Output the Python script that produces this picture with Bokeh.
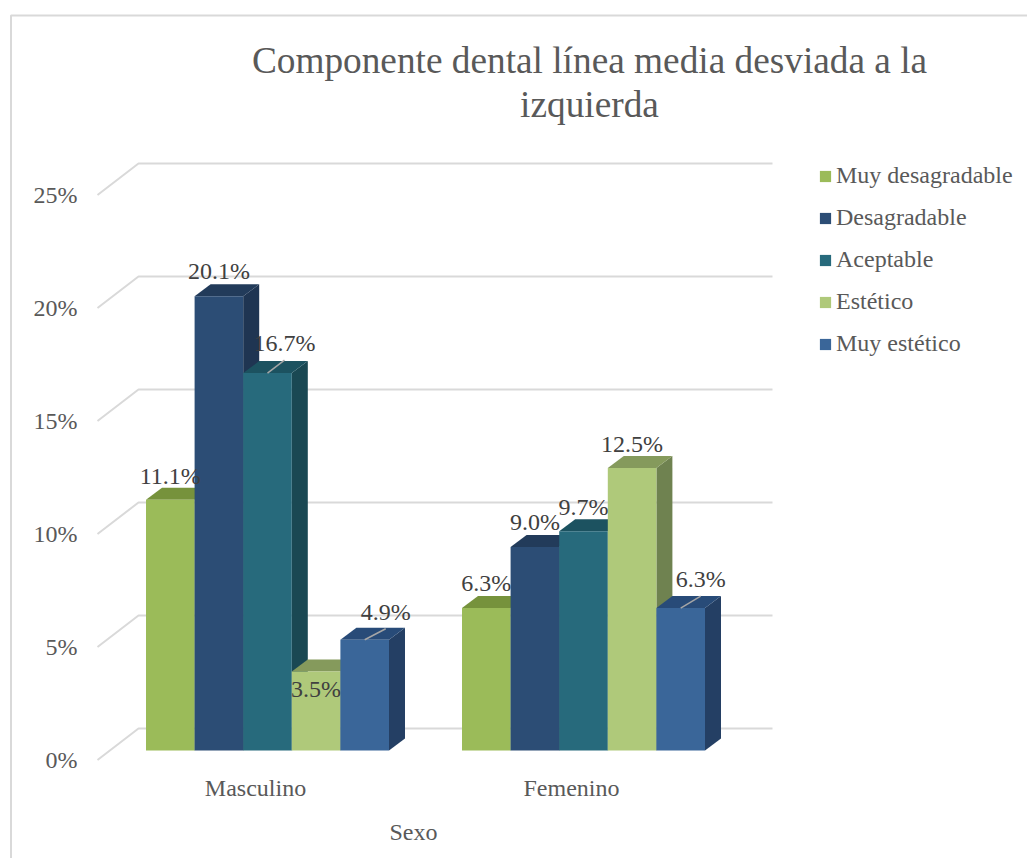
from bokeh.plotting import figure
from bokeh.models import ColumnDataSource, Legend, LegendItem, Label, FixedTicker
from bokeh.core.properties import value
from bokeh.embed import file_html
from bokeh.resources import INLINE

categories = ["Masculino", "Femenino"]
series = ["Muy desagradable", "Desagradable", "Aceptable", "Estético", "Muy estético"]
muy_desagradable = [11.1, 6.3]
desagradable = [20.1, 9.0]
aceptable = [16.7, 9.7]
estetico = [3.5, 12.5]
muy_estetico = [4.9, 6.3]
all_values = [muy_desagradable, desagradable, aceptable, estetico, muy_estetico]
y_ticks = [0, 5, 10, 15, 20, 25]
y_tick_labels = ["0%", "5%", "10%", "15%", "20%", "25%"]
title_lines = ["Componente dental línea media desviada a la", "izquierda"]
x_title = "Sexo"

front_colors = ["#9BBB59", "#2C4D75", "#276A7C", "#AFC97A", "#3A6699"]
top_colors = ["#76923C", "#223B5A", "#1C5260", "#859A5C", "#284B78"]
side_colors = ["#76923C", "#1F3552", "#1A4853", "#6F8250", "#243F64"]
label_dx = [[0, 0], [0, 0], [17, 0], [0, 0], [21, 20]]
label_dy = [[24, 25], [25, 25], [30, 24], [-18, 24], [28, 29]]
leader = [[False, False], [False, False], [True, False], [False, False], [True, True]]

FONT = "Liberation Serif"
PX_X = 48.6
PX_Y = 22.6
W, H = 1027, 858
ORIGIN_X, ORIGIN_Y = 267.0, 759.5
GROUP_STEP = 316 / PX_X


def data_x(px):
    return (px - ORIGIN_X) / PX_X


def data_y(px):
    return (ORIGIN_Y - px) / PX_Y


dx = 16 / PX_X
dy = 12 / PX_Y
base = 9.5 / PX_Y
wall_dx = 41 / PX_X
wall_dy = 31.5 / PX_Y
grid_left = data_x(97)
grid_right = data_x(772)

p = figure(width=W, height=H, output_backend="svg", toolbar_location=None,
           x_range=(data_x(0), data_x(W)), y_range=(data_y(H), data_y(0)),
           min_border_left=0, min_border_right=0, min_border_top=0,
           min_border_bottom=0, outline_line_color=None)

p.xgrid.visible = False
p.ygrid.visible = False

p.yaxis.fixed_location = grid_left
p.yaxis.ticker = FixedTicker(ticks=y_ticks)
p.yaxis.major_label_overrides = dict(zip(y_ticks, y_tick_labels))
p.yaxis.axis_line_color = None
p.yaxis.major_tick_line_color = None
p.yaxis.minor_tick_line_color = None
p.yaxis.major_label_text_font = FONT
p.yaxis.major_label_text_font_size = "24px"
p.yaxis.major_label_text_color = "#595959"
p.yaxis.major_label_standoff = 14

cat_x = [i * GROUP_STEP for i in range(len(categories))]
tick_x = [c - 12 / PX_X for c in cat_x]
p.xaxis.fixed_location = data_y(770)
p.xaxis.ticker = FixedTicker(ticks=tick_x)
p.xaxis.major_label_overrides = dict(zip(tick_x, categories))
p.xaxis.axis_line_color = None
p.xaxis.major_tick_line_color = None
p.xaxis.minor_tick_line_color = None
p.xaxis.major_label_text_font = FONT
p.xaxis.major_label_text_font_size = "24px"
p.xaxis.major_label_text_color = "#595959"
p.xaxis.major_label_standoff = -2

# chart-area border (left and top edges; the others fall off the crop)
p.line([data_x(10.5), data_x(10.5), data_x(W)], [data_y(H), data_y(15), data_y(15)],
       line_color="#D9D9D9", line_width=2)

# back wall gridlines
p.multi_line(xs=[[grid_left, grid_left + wall_dx, grid_right] for _ in y_ticks],
             ys=[[t, t + wall_dy, t + wall_dy] for t in y_ticks],
             line_color="#D9D9D9", line_width=2)

legend_items = []
for j, name in enumerate(series):
    vals = all_values[j]
    lefts = [c + j - 2.5 for c in cat_x]
    rights = [l + 1 for l in lefts]
    tops = [base + v for v in vals]
    bottoms = [base for _ in vals]
    p.patches(xs=[[r, r + dx, r + dx, r] for r in rights],
              ys=[[b, b + dy, t + dy, t] for b, t in zip(bottoms, tops)],
              fill_color=side_colors[j], line_color=None)
    p.patches(xs=[[l, l + dx, r + dx, r] for l, r in zip(lefts, rights)],
              ys=[[t, t + dy, t + dy, t] for t in tops],
              fill_color=top_colors[j], line_color=None)
    src = ColumnDataSource(dict(left=lefts, right=rights, top=tops, bottom=bottoms))
    r_front = p.quad(left="left", right="right", top="top", bottom="bottom", source=src,
                     fill_color=front_colors[j], line_color=None)
    legend_items.append(LegendItem(label=name, renderers=[r_front]))

# data labels and leader lines go above all the bars
for j, name in enumerate(series):
    vals = all_values[j]
    for i, v in enumerate(vals):
        cx = cat_x[i] + j - 2
        ty = base + v
        if leader[j][i]:
            p.line([cx, cx + label_dx[j][i] / PX_X], [ty, ty + (label_dy[j][i] - 17) / PX_Y],
                   line_color="#A6A6A6", line_width=1.5)
    src = ColumnDataSource(dict(
        x=[cat_x[i] + j - 2 for i in range(len(vals))],
        y=[base + v for v in vals],
        t=[f"{v:.1f}%" for v in vals],
        xo=label_dx[j],
        yo=[-d for d in label_dy[j]],
    ))
    p.text(x="x", y="y", text="t", source=src, x_offset="xo", y_offset="yo",
           text_align="center", text_baseline="middle", text_font=value(FONT),
           text_font_size="24px", text_color="#404040")

legend = Legend(items=legend_items, location=(818, H - 357), orientation="vertical",
                border_line_color=None, background_fill_alpha=0, padding=0, margin=0,
                spacing=15, glyph_width=14, glyph_height=14, label_standoff=4,
                label_text_font=FONT, label_text_font_size="24px", label_text_color="#595959")
p.add_layout(legend, "center")

for line, y_px in zip(title_lines, [60, 104]):
    p.add_layout(Label(x=data_x(589), y=data_y(y_px), text=line,
                       text_align="center", text_baseline="middle", text_font=FONT,
                       text_font_size="37.3px", text_color="#595959"))

p.add_layout(Label(x=data_x(413), y=data_y(831), text=x_title,
                   text_align="center", text_baseline="middle", text_font=FONT,
                   text_font_size="24px", text_color="#595959"))

open("out.html", "w").write(file_html(p, INLINE))
